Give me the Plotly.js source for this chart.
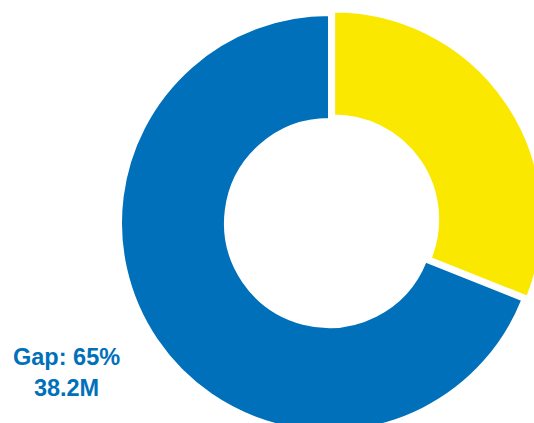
<!DOCTYPE html>
<html>
<head>
<meta charset="utf-8">
<script src="https://cdn.plot.ly/plotly-3.0.1.min.js"></script>
<style>
html, body { margin: 0; padding: 0; overflow: hidden; background: #ffffff; width: 534px; height: 423px; }
#chart { position: absolute; left: 0; top: 0; width: 560px; height: 460px; }
</style>
</head>
<body>
<div id="chart"></div>
<script>
// Data
var categories = ["Covered", "Gap"];
var values = [17.2, 38.2];          // millions
var sliceColors = ["#FAE800", "#0070BB"];
var gapLabelLines = ["Gap: 65%", "38.2M"];

var W = 560, H = 460;
var cx = 329, cy = 223, R = 208, pull = 0.03;
var half = R * (1 + pull);

var trace = {
  type: "pie",
  labels: categories,
  values: values,
  hole: 0.5,
  sort: false,
  direction: "clockwise",
  rotation: 0,
  pull: [pull, 0],
  textinfo: "none",
  hoverinfo: "label+value+percent",
  marker: { colors: sliceColors, line: { color: "#ffffff", width: 2 } },
  domain: {
    x: [(cx - half) / W, (cx + half) / W],
    y: [1 - (cy + half) / H, 1 - (cy - half) / H]
  },
  showlegend: false
};

var layout = {
  width: W,
  height: H,
  margin: { l: 0, r: 0, t: 0, b: 0, pad: 0 },
  paper_bgcolor: "#ffffff",
  showlegend: false,
  annotations: [{
    xref: "paper", yref: "paper",
    x: 66.5 / W, y: 1 - 372 / H,
    xanchor: "center", yanchor: "middle",
    align: "center",
    showarrow: false,
    text: "<b>" + gapLabelLines.join("<br>") + "</b>",
    font: { family: "Liberation Sans, Arial, sans-serif", size: 23.5, color: "#0070BB" }
  }]
};

Plotly.newPlot("chart", [trace], layout, { displayModeBar: false, staticPlot: true });
</script>
</body>
</html>
